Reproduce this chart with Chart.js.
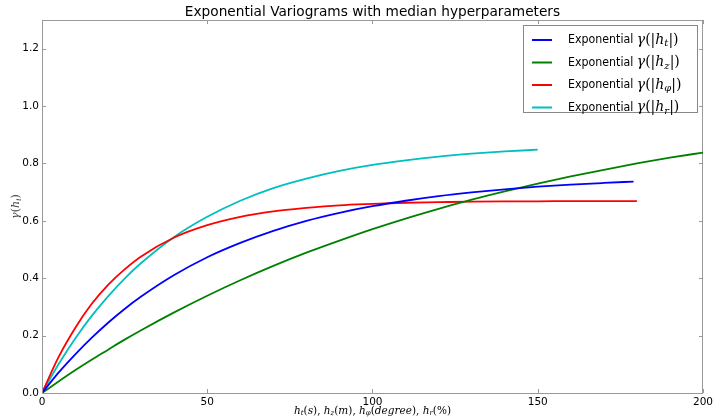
<!DOCTYPE html>
<html>
<head>
<meta charset="utf-8">
<script src="https://cdn.jsdelivr.net/npm/chart.js@4.4.0/dist/chart.umd.min.js"></script>
<style>
  body { margin: 0; background: #fff; }
  #wrap { width: 716px; height: 420px; }
</style>
</head>
<body>
<div id="wrap"><canvas id="grafico" width="716" height="420"></canvas></div>
<script>
// distancias (eixo x) e valores
const distBlue  = [0,5,10,15,20,25,30,40,50,60,70,80,90,100,110,120,130,140,150,160,170,179];
const gammaBlue = [0,0.071,0.134,0.192,0.245,0.293,0.336,0.411,0.473,0.523,0.565,0.600,0.628,0.651,0.670,0.686,0.699,0.710,0.719,0.726,0.732,0.737];

const distGreen  = [0,5,10,15,20,25,30,40,50,60,70,80,90,100,110,120,130,140,150,160,170,180,190,200];
const gammaGreen = [0,0.040,0.079,0.116,0.151,0.186,0.219,0.281,0.339,0.393,0.443,0.489,0.531,0.571,0.608,0.642,0.674,0.703,0.730,0.755,0.778,0.800,0.820,0.838];

const distRed  = [0,5,10,15,20,25,30,40,50,60,70,80,90,100,110,120,130,140,150,160,170,180];
const gammaRed = [0,0.125,0.226,0.310,0.377,0.431,0.476,0.542,0.585,0.614,0.633,0.645,0.654,0.659,0.663,0.665,0.667,0.668,0.668,0.669,0.669,0.669];

const distCyan  = [0,5,10,15,20,25,30,40,50,60,70,80,90,100,110,120,130,140,150];
const gammaCyan = [0,0.100,0.189,0.268,0.337,0.399,0.453,0.544,0.614,0.670,0.714,0.747,0.774,0.795,0.811,0.824,0.834,0.842,0.848];

const xTicks = [0,50,100,150,200];
const yTicks = [0,0.2,0.4,0.6,0.8,1.0,1.2];

const tituloGrafico = 'Exponential Variograms with median hyperparameters';
const subscritos = ['t','z','\u03c6','r'];

function pares(xs, ys) {
  return xs.map((x, i) => ({ x: x, y: ys[i] }));
}

// desenha texto com subscritos (estilo mathtext)
function pedacos(ctx, partes, size, medir, x, y) {
  let w = 0;
  partes.forEach(p => {
    let s = p.sub ? Math.round(size * 0.7) : size;
    if (p.f === 'sans') ctx.font = (p.size || s) + 'px "DejaVu Sans"';
    else if (p.f === 'it') ctx.font = 'italic ' + s + 'px "DejaVu Serif"';
    else ctx.font = s + 'px "DejaVu Serif"';
    const esc = p.sx || 1;
    if (!medir) {
      ctx.save();
      ctx.translate(x + w, y + (p.sub ? size * 0.25 : 0));
      ctx.scale(esc, 1);
      ctx.fillText(p.t, 0, 0);
      ctx.restore();
    }
    w += ctx.measureText(p.t).width * esc;
  });
  return w;
}

function legendaPartes(sub) {
  return [
    { t: 'Exponential ', f: 'sans', size: 12, sx: 0.92 },
    { t: '\u03b3', f: 'it' },
    { t: '(|', f: 'rm' },
    { t: 'h', f: 'it' },
    { t: sub, f: 'it', sub: true },
    { t: '|)', f: 'rm' }
  ];
}

const extras = {
  id: 'extras',
  afterDraw(chart) {
    const ctx = chart.ctx;
    const area = chart.chartArea;
    const sx = chart.scales.x, sy = chart.scales.y;
    ctx.save();

    // marcas dos ticks para dentro
    ctx.strokeStyle = '#999';
    ctx.lineWidth = 1;
    yTicks.forEach(v => {
      const py = Math.round(sy.getPixelForValue(v)) + 0.5;
      ctx.beginPath();
      ctx.moveTo(area.left, py); ctx.lineTo(area.left + 4, py);
      ctx.moveTo(area.right, py); ctx.lineTo(area.right - 4, py);
      ctx.stroke();
    });
    xTicks.forEach(v => {
      const px = Math.round(sx.getPixelForValue(v)) + 0.5;
      ctx.beginPath();
      ctx.moveTo(px, area.bottom); ctx.lineTo(px, area.bottom - 4);
      ctx.moveTo(px, area.top); ctx.lineTo(px, area.top + 4);
      ctx.stroke();
    });

    // titulo
    ctx.fillStyle = '#000';
    ctx.textBaseline = 'middle';
    ctx.textAlign = 'center';
    ctx.font = '13.7px "DejaVu Sans"';
    ctx.fillText(tituloGrafico, (area.left + area.right) / 2, 12);

    // legenda
    ctx.textAlign = 'left';
    const lx = 523, ly = 25, lw = 174, lh = 87;
    ctx.fillStyle = '#fff';
    ctx.fillRect(lx, ly, lw, lh);
    ctx.strokeStyle = '#888';
    ctx.lineWidth = 1;
    ctx.strokeRect(lx + 0.5, ly + 0.5, lw, lh);
    chart.data.datasets.forEach((ds, i) => {
      const yy = 40 + i * 22.5;
      ctx.strokeStyle = ds.borderColor;
      ctx.lineWidth = 2;
      ctx.beginPath();
      ctx.moveTo(532, yy); ctx.lineTo(552, yy);
      ctx.stroke();
      ctx.fillStyle = '#000';
      pedacos(ctx, legendaPartes(subscritos[i]), 14, false, 568, yy);
    });

    // titulo do eixo x
    const px = [
      { t: 'h', f: 'it' }, { t: 't', f: 'it', sub: true }, { t: '(', f: 'rm' }, { t: 's', f: 'it' }, { t: '), ', f: 'rm' },
      { t: 'h', f: 'it' }, { t: 'z', f: 'it', sub: true }, { t: '(', f: 'rm' }, { t: 'm', f: 'it' }, { t: '), ', f: 'rm' },
      { t: 'h', f: 'it' }, { t: '\u03c6', f: 'it', sub: true }, { t: '(', f: 'rm' }, { t: 'degree', f: 'it' }, { t: '), ', f: 'rm' },
      { t: 'h', f: 'it' }, { t: 'r', f: 'it', sub: true }, { t: '(%)', f: 'rm' }
    ];
    const wx = pedacos(ctx, px, 10.5, true, 0, 0);
    pedacos(ctx, px, 10.5, false, (area.left + area.right) / 2 - wx / 2, 411);

    // titulo do eixo y
    const py = [{ t: '\u03b3', f: 'it' }, { t: '(', f: 'rm' }, { t: 'h', f: 'it' }, { t: 'i', f: 'it', sub: true }, { t: ')', f: 'rm' }];
    ctx.translate(16, (area.top + area.bottom) / 2);
    ctx.rotate(-Math.PI / 2);
    const wy = pedacos(ctx, py, 11, true, 0, 0);
    ctx.fillStyle = '#444';
    pedacos(ctx, py, 11, false, -wy / 2, 0);
    ctx.restore();
  }
};

const ctxVario = document.getElementById('grafico').getContext('2d');
const chartVariograma = new Chart(ctxVario, {
  type: 'line',
  data: {
    datasets: [
      { label: 'blue', data: pares(distBlue, gammaBlue), borderColor: '#0000ff' },
      { label: 'green', data: pares(distGreen, gammaGreen), borderColor: '#008000' },
      { label: 'red', data: pares(distRed, gammaRed), borderColor: '#ff0000' },
      { label: 'cyan', data: pares(distCyan, gammaCyan), borderColor: '#00bfbf' }
    ]
  },
  options: {
    responsive: false,
    animation: false,
    layout: { padding: { top: 20, right: 12, left: 0, bottom: 0 } },
    elements: {
      point: { radius: 0 },
      line: { borderWidth: 1.8, cubicInterpolationMode: 'monotone', fill: false }
    },
    plugins: { legend: { display: false }, tooltip: { enabled: false }, title: { display: false } },
    scales: {
      x: {
        type: 'linear',
        min: 0,
        max: 200,
        afterFit: s => { s.height = 27; },
        afterBuildTicks: s => { s.ticks = xTicks.map(v => ({ value: v })); },
        grid: { display: false, drawTicks: false },
        border: { display: true, color: '#999', width: 1 },
        ticks: { color: '#000', font: { family: 'DejaVu Sans', size: 10.5 }, padding: 3, maxRotation: 0 }
      },
      y: {
        min: 0,
        max: 1.3,
        afterFit: s => { s.width = 42; },
        afterBuildTicks: s => { s.ticks = yTicks.map(v => ({ value: v })); },
        grid: { display: false, drawTicks: false },
        border: { display: true, color: '#999', width: 1 },
        ticks: { color: '#000', font: { family: 'DejaVu Sans', size: 10.5 }, padding: 3, callback: v => v.toFixed(1) }
      },
      x2: { type: 'linear', position: 'top', display: true, afterFit: s => { s.height = 0; }, ticks: { display: false }, grid: { display: false, drawTicks: false }, border: { display: true, color: '#999' } },
      y2: { position: 'right', display: true, afterFit: s => { s.width = 0; }, ticks: { display: false }, grid: { display: false, drawTicks: false }, border: { display: true, color: '#999' } }
    }
  },
  plugins: [extras]
});
</script>
</body>
</html>
